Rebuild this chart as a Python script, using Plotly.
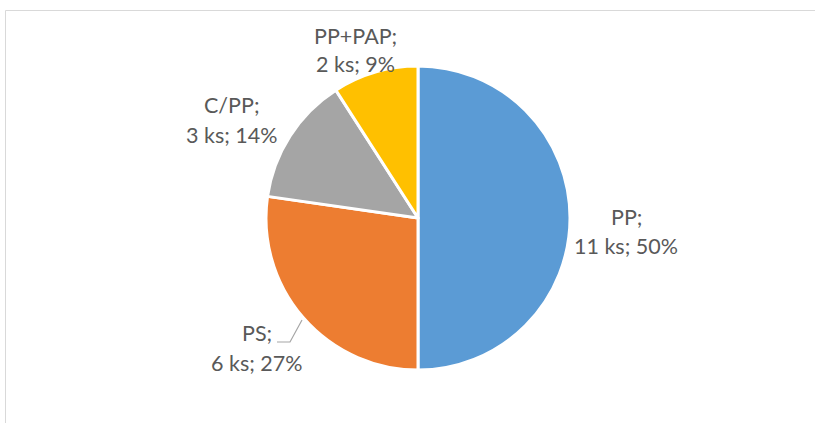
import plotly.graph_objects as go

categories = ["PP", "PS", "C/PP", "PP+PAP"]
values = [11, 6, 3, 2]
colors = ["#5B9BD5", "#ED7D31", "#A5A5A5", "#FFC000"]

W, H = 815, 423
total = sum(values)
pcts = [round(v / total * 100) for v in values]

# label centres in pixels (layout only): (x, y line1, y line2)
label_pos = {
    "PP": (626, 217, 246),
    "PS": (257, 333, 363),
    "C/PP": (232, 105, 135),
    "PP+PAP": (355, 36, 64),
}

cx, cy, r = 418, 218, 152

fig = go.Figure(go.Pie(
    labels=categories,
    values=values,
    sort=False,
    direction="clockwise",
    rotation=0,
    marker=dict(colors=colors, line=dict(color="white", width=3)),
    textinfo="none",
    hoverinfo="label+value+percent",
    domain=dict(x=[(cx - r) / W, (cx + r) / W], y=[1 - (cy + r) / H, 1 - (cy - r) / H]),
    showlegend=False,
))

font = dict(family="Lato", size=21.5, color="#595959")
for c, v, p in zip(categories, values, pcts):
    x, y1, y2 = label_pos[c]
    fig.add_annotation(x=x / W, y=1 - y1 / H, xref="paper", yref="paper",
                       text=f"{c};", showarrow=False, font=font,
                       xanchor="center", yanchor="middle")
    fig.add_annotation(x=x / W, y=1 - y2 / H, xref="paper", yref="paper",
                       text=f"{v} ks; {p}%", showarrow=False, font=font,
                       xanchor="center", yanchor="middle")

# leader line for PS
fig.add_shape(type="path", xref="paper", yref="paper",
              path=f"M {277/W} {1-342/H} L {290/W} {1-342/H} L {302/W} {1-320/H}",
              line=dict(color="#A6A6A6", width=1.2))

# chart area border (cropped)
fig.add_shape(type="rect", xref="paper", yref="paper",
              x0=5.5 / W, x1=1.05, y0=-0.05, y1=1 - 10.5 / H,
              line=dict(color="#D9D9D9", width=1), layer="below")

fig.update_layout(
    width=W, height=H,
    margin=dict(l=0, r=0, t=0, b=0),
    paper_bgcolor="white", plot_bgcolor="white",
)

fig.write_html("out.html",
               config={"displayModeBar": False},
               post_script="document.body.style.margin='0';document.body.style.overflow='hidden';")
